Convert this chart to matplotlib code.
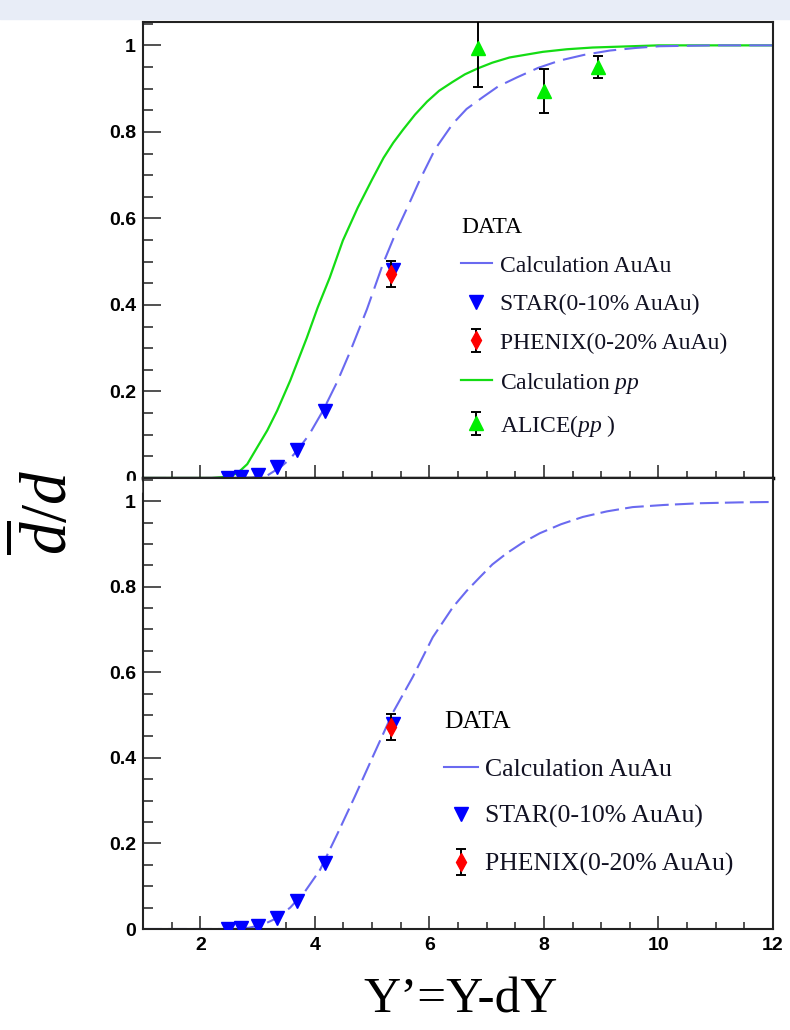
import matplotlib.pyplot as plt
from matplotlib.lines import Line2D
from matplotlib.patches import Rectangle
from matplotlib.ticker import MultipleLocator, FuncFormatter

plt.rcParams['font.family'] = 'Liberation Sans'
plt.rcParams['font.weight'] = 'bold'
plt.rcParams['mathtext.fontset'] = 'custom'
plt.rcParams['mathtext.rm'] = 'Liberation Serif:weight=normal'
plt.rcParams['mathtext.it'] = 'Liberation Serif:style=italic:weight=normal'

# calculated d-bar/d curves
auau_top_x = [1.0, 2.5, 2.9, 3.16, 3.4, 3.55, 3.69, 3.9, 4.14, 4.39, 4.61, 4.91, 5.19, 5.43,
              5.65, 5.83, 6.1, 6.41, 6.65, 6.93, 7.2, 7.53, 7.9, 8.28, 8.7, 9.15, 9.6,
              10.02, 10.95, 12.0]
auau_top_y = [0.0, 0.0, 0.001, 0.005, 0.025, 0.042, 0.063, 0.1, 0.155, 0.222, 0.29, 0.39,
              0.495, 0.572, 0.635, 0.688, 0.76, 0.819, 0.853, 0.88, 0.905, 0.926, 0.948,
              0.965, 0.978, 0.988, 0.994, 0.998, 1.0, 1.0]

pp_x = [1.0, 2.2, 2.4, 2.64, 2.82, 2.99, 3.17, 3.34, 3.57, 3.86, 4.05, 4.26, 4.49, 4.75,
        5.0, 5.2, 5.37, 5.54, 5.75, 5.96, 6.17, 6.4, 6.62, 6.85, 7.1, 7.4, 7.98, 8.4,
        8.85, 10.0, 12.0]
pp_y = [0.0, 0.0, 0.002, 0.01, 0.032, 0.07, 0.11, 0.155, 0.225, 0.324, 0.394, 0.463,
        0.549, 0.625, 0.69, 0.74, 0.775, 0.805, 0.84, 0.87, 0.895, 0.915, 0.933, 0.947,
        0.96, 0.972, 0.985, 0.991, 0.995, 1.0, 1.0]

auau_bot_x = [1.0, 2.6, 2.85, 3.09, 3.33, 3.57, 3.83, 4.09, 4.4, 4.7, 5.01, 5.36, 5.71,
              6.06, 6.41, 6.65, 6.88, 7.1, 7.35, 7.63, 7.93, 8.3, 8.68, 9.1, 9.55, 10.1,
              10.72, 11.4, 12.0]
auau_bot_y = [0.0, 0.0, 0.003, 0.01, 0.025, 0.05, 0.088, 0.138, 0.224, 0.31, 0.402, 0.505,
              0.589, 0.682, 0.752, 0.79, 0.822, 0.852, 0.878, 0.903, 0.925, 0.946, 0.963,
              0.976, 0.986, 0.991, 0.995, 0.997, 0.998]

# measurements
star_x = [2.48, 2.71, 3.0, 3.34, 3.69, 4.18, 5.36]
star_y = [0.0, 0.003, 0.008, 0.025, 0.065, 0.155, 0.48]

phenix_x = [5.33]
phenix_y = [0.472]
phenix_err = [0.03]

alice_x = [6.85, 8.0, 8.95]
alice_y = [0.993, 0.895, 0.95]
alice_err = [0.09, 0.051, 0.025]

auau_col = '#6a6af0'
pp_col = '#14dc14'

fig = plt.figure(figsize=(7.9, 10.3), dpi=100)
fig.patches.append(Rectangle((0, 1 - 19 / 1030), 1, 19 / 1030, transform=fig.transFigure,
                             color='#e8edf7', zorder=0))

ax1 = fig.add_axes([143 / 790, 1 - 478 / 1030, 630 / 790, 456 / 1030])
ax2 = fig.add_axes([143 / 790, 1 - 929 / 1030, 630 / 790, 451 / 1030])


def style(ax):
    ax.set_xlim(1, 12)
    ax.set_ylim(0, 1.054)
    ax.xaxis.set_major_locator(MultipleLocator(2))
    ax.xaxis.set_minor_locator(MultipleLocator(0.5))
    ax.yaxis.set_major_locator(MultipleLocator(0.2))
    ax.yaxis.set_minor_locator(MultipleLocator(0.05))
    fmt = FuncFormatter(lambda v, p: '%g' % round(v, 3))
    ax.xaxis.set_major_formatter(fmt)
    ax.yaxis.set_major_formatter(fmt)
    ax.tick_params(which='both', direction='in', top=False, right=False,
                   width=1.1, color='#222222', labelsize=14)
    ax.tick_params(axis='x', which='major', length=9.5, pad=6)
    ax.tick_params(axis='x', which='minor', length=5)
    ax.tick_params(axis='y', which='major', length=13, pad=5)
    ax.tick_params(axis='y', which='minor', length=7.5)
    for sp in ax.spines.values():
        sp.set_linewidth(1.5)
        sp.set_color('#222222')


style(ax1)
style(ax2)
ax1.tick_params(axis='x', labelbottom=False)
ax1.spines['bottom'].set_linewidth(2.5)
ax1.spines['bottom'].set_color('black')

# upper panel: AuAu and pp
ax1.plot(pp_x, pp_y, color=pp_col, lw=1.6, zorder=2)
ax1.plot(auau_top_x, auau_top_y, color=auau_col, lw=1.5, dashes=(11, 4), zorder=2)
star1, = ax1.plot(star_x, star_y, 'v', color='#0000ff', ms=10, ls='none', zorder=3)
phx1 = ax1.errorbar(phenix_x, phenix_y, yerr=phenix_err, fmt='d', color='red', ms=9,
                    ecolor='black', elinewidth=1.4, capsize=3.5, capthick=1.4, zorder=4)
al1 = ax1.errorbar(alice_x, alice_y, yerr=alice_err, fmt='^', color='#00ee00', ms=10,
                   ecolor='black', elinewidth=1.4, capsize=3.5, capthick=1.4, zorder=4)

leg_font = dict(family='Liberation Serif', weight='normal', size=17)
ax1.legend([Line2D([], [], color=auau_col, lw=1.5), star1, phx1,
            Line2D([], [], color=pp_col, lw=1.6), al1],
           ['Calculation AuAu', 'STAR(0-10% AuAu)', 'PHENIX(0-20% AuAu)',
            r'Calculation $pp$', r'ALICE($pp$ )'],
           title='DATA', title_fontproperties=leg_font, prop=leg_font, alignment='left',
           loc='upper left', bbox_to_anchor=(0.505, 0.572), frameon=False,
           handlelength=1.3, handletextpad=0.35, labelspacing=0.72,
           borderpad=0, borderaxespad=0, labelcolor='#111122')

# lower panel: AuAu only
ax2.plot(auau_bot_x, auau_bot_y, color=auau_col, lw=1.5, dashes=(9, 3), zorder=2)
star2, = ax2.plot(star_x, star_y, 'v', color='#0000ff', ms=10, ls='none', zorder=3)
phx2 = ax2.errorbar(phenix_x, phenix_y, yerr=phenix_err, fmt='d', color='red', ms=9,
                    ecolor='black', elinewidth=1.4, capsize=3.5, capthick=1.4, zorder=4)

leg_font2 = dict(family='Liberation Serif', weight='normal', size=18.5)
ax2.legend([Line2D([], [], color=auau_col, lw=1.5), star2, phx2],
           ['Calculation AuAu', 'STAR(0-10% AuAu)', 'PHENIX(0-20% AuAu)'],
           title='DATA', title_fontproperties=leg_font2, prop=leg_font2, alignment='left',
           loc='upper left', bbox_to_anchor=(0.478, 0.483), frameon=False,
           handlelength=1.3, handletextpad=0.3, labelspacing=0.95,
           borderpad=0, borderaxespad=0, labelcolor='#111122')

# hide the lower half of the upper panel's "0" label
fig.patches.append(Rectangle((95 / 790, 1 - 492 / 1030), 46 / 790, 11 / 1030,
                             transform=fig.transFigure, color='white', zorder=5))

fig.text(461 / 790, 1 - 1000 / 1030, 'Y\u2019=Y-dY', ha='center', va='center',
         fontsize=37, family='Liberation Serif', weight='normal')
fig.text(46 / 790, 1 - 512 / 1030, r'$\overline{d}/d$', rotation=90, ha='center',
         va='center', fontsize=47)

fig.savefig('out.png', dpi=100)
